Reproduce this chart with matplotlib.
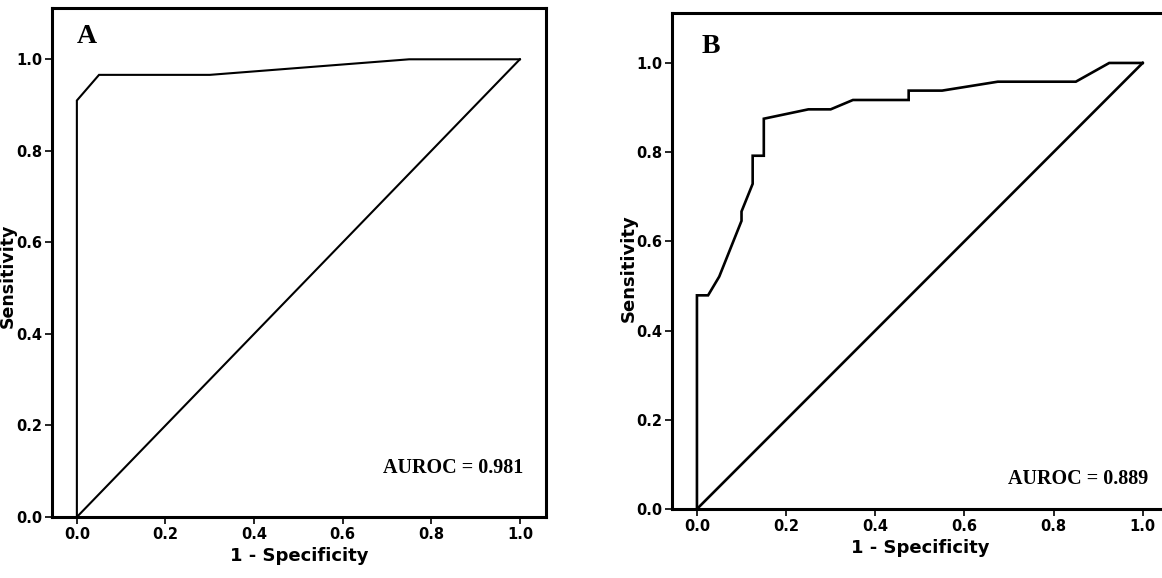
import matplotlib
matplotlib.use("Agg")
import matplotlib.pyplot as plt

# ROC panel A
fpr_a = [0.0, 0.0, 0.05, 0.30, 0.75, 1.0]
tpr_a = [0.0, 0.91, 0.966, 0.966, 1.0, 1.0]
auc_a = "AUROC = 0.981"

# ROC panel B
fpr_b = [0.0, 0.0, 0.025, 0.05, 0.10, 0.10, 0.125, 0.125, 0.15, 0.15,
         0.25, 0.30, 0.35, 0.475, 0.475, 0.55, 0.675, 0.85, 0.925, 1.0]
tpr_b = [0.0, 0.479, 0.479, 0.521, 0.646, 0.667, 0.729, 0.792, 0.792, 0.875,
         0.896, 0.896, 0.917, 0.917, 0.938, 0.938, 0.958, 0.958, 1.0, 1.0]
auc_b = "AUROC = 0.889"

ref_line = [0.0, 1.0]
ticks = [0.0, 0.2, 0.4, 0.6, 0.8, 1.0]
tick_labels = ["0.0", "0.2", "0.4", "0.6", "0.8", "1.0"]

fig = plt.figure(figsize=(11.62, 5.78), dpi=100)
ax_a = fig.add_axes([0.0448, 0.1055, 0.4251, 0.8806])
ax_b = fig.add_axes([0.5783, 0.1194, 0.4277, 0.8581])


def draw_panel(ax, fpr, tpr, auc_txt, letter, lw, auc_pos, letter_pos, ylab_x, ylab_y, ylab_size):
    ax.plot(fpr, tpr, color="black", linewidth=lw, solid_joinstyle="miter")
    ax.plot(ref_line, ref_line, color="black", linewidth=lw)
    ax.set_xlim(-0.056, 1.059)
    ax.set_ylim(0.0, 1.112)
    for s in ax.spines.values():
        s.set_linewidth(2.2)
    ax.set_xticks(ticks)
    ax.set_xticklabels(tick_labels, fontweight="bold", fontsize=10.5)
    ax.set_yticks(ticks)
    ax.set_yticklabels(tick_labels, fontweight="bold", fontsize=10.5)
    ax.tick_params(direction="out", length=5, width=1.2, pad=2)
    ax.set_xlabel("1 - Specificity", fontsize=13, fontweight="bold", labelpad=4)
    ax.set_ylabel("Sensitivity", fontsize=ylab_size, fontweight="bold")
    ax.yaxis.set_label_coords(ylab_x, ylab_y)
    ax.text(auc_pos[0], auc_pos[1], auc_txt, family="Liberation Serif",
            fontweight="bold", fontsize=14.5, ha="right", va="center")
    ax.text(letter_pos[0], letter_pos[1], letter, family="Liberation Serif",
            fontweight="bold", fontsize=20, ha="left", va="center")


draw_panel(ax_a, fpr_a, tpr_a, auc_a, "A", 1.5, (1.007, 0.107), (0.0, 1.05), -0.0715, 0.473, 12.5)
draw_panel(ax_b, fpr_b, tpr_b, auc_b, "B", 1.9, (1.013, 0.067), (0.011, 1.038), -0.068, 0.486, 13)

fig.savefig("out.png", dpi=100)
